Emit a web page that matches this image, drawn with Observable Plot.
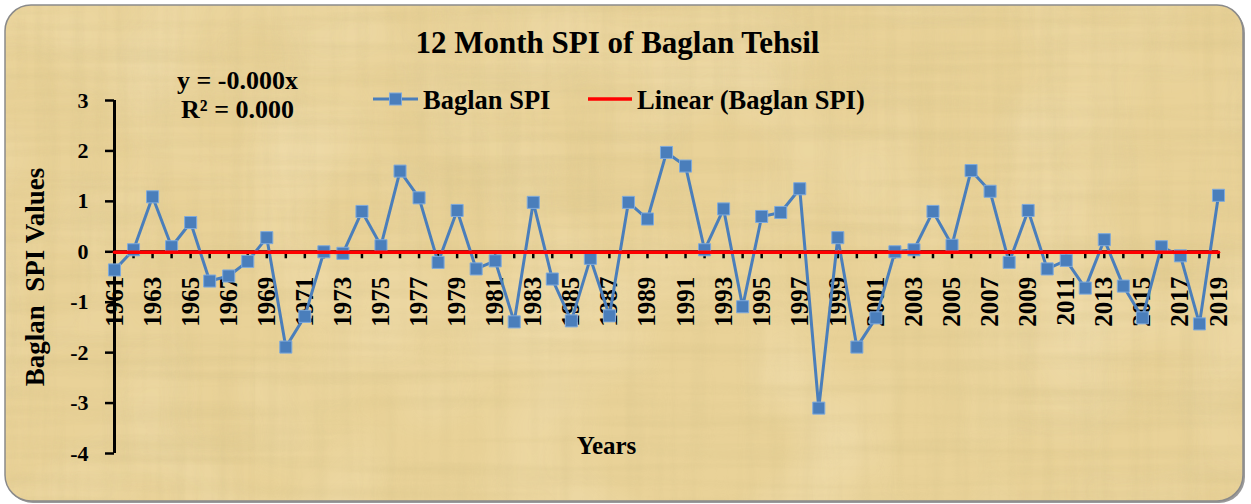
<!DOCTYPE html>
<html><head><meta charset="utf-8">
<script src="https://cdn.jsdelivr.net/npm/d3@7"></script>
<script src="https://cdn.jsdelivr.net/npm/@observablehq/plot@0.6"></script>
<style>
html,body{margin:0;padding:0;background:#ffffff;}
#wrap{position:relative;width:1251px;height:504px;overflow:hidden;font-family:"Liberation Serif","Times New Roman",serif;}
#wrap svg{position:absolute;left:0;top:0;}
</style></head><body>
<div id="wrap">
<svg id="bg" width="1251" height="504">
  <defs>
    <filter id="fibH" x="0" y="0" width="100%" height="100%">
      <feTurbulence type="fractalNoise" baseFrequency="0.003 0.07" numOctaves="3" seed="4"/>
      <feColorMatrix type="matrix" values="0 0 0 0 0.62  0 0 0 0 0.5  0 0 0 0 0.22  0 0 0 1.6 -0.64"/>
    </filter>
    <filter id="fibV" x="0" y="0" width="100%" height="100%">
      <feTurbulence type="fractalNoise" baseFrequency="0.07 0.004" numOctaves="3" seed="9"/>
      <feColorMatrix type="matrix" values="0 0 0 0 0.64  0 0 0 0 0.52  0 0 0 0 0.24  0 0 0 1.5 -0.62"/>
    </filter>
    <filter id="spot" x="0" y="0" width="100%" height="100%">
      <feTurbulence type="fractalNoise" baseFrequency="0.008" numOctaves="2" seed="2"/>
      <feColorMatrix type="matrix" values="0 0 0 0 1  0 0 0 0 0.92  0 0 0 0 0.72  0 0 0 1.2 -0.48"/>
    </filter>
    <clipPath id="clip"><rect x="5" y="5" width="1238" height="496" rx="26"/></clipPath>
  </defs>
  <rect x="7" y="7" width="1238" height="496" rx="26" fill="#9a9a9a"/>
  <rect x="5" y="5" width="1238" height="496" rx="26" fill="#e9d298"/>
  <g clip-path="url(#clip)">
    <rect x="0" y="0" width="1251" height="504" filter="url(#spot)" opacity="0.45"/>
    <rect x="0" y="0" width="1251" height="504" filter="url(#fibH)" opacity="0.3"/>
    <rect x="0" y="0" width="1251" height="504" filter="url(#fibV)" opacity="0.25"/>
  </g>
  <rect x="5" y="5" width="1238" height="496" rx="26" fill="none" stroke="#8a8a8a" stroke-width="1.5"/>
</svg>
</div>
<script>
const years = [1961,1962,1963,1964,1965,1966,1967,1968,1969,1970,
  1971,1972,1973,1974,1975,1976,1977,1978,1979,1980,
  1981,1982,1983,1984,1985,1986,1987,1988,1989,1990,
  1991,1992,1993,1994,1995,1996,1997,1998,1999,2000,
  2001,2002,2003,2004,2005,2006,2007,2008,2009,2010,
  2011,2012,2013,2014,2015,2016,2017,2018,2019];
const spi = [-0.36,0.04,1.09,0.10,0.58,-0.58,-0.48,-0.19,0.28,-1.89,
  -1.28,0.00,-0.03,0.80,0.12,1.60,1.07,-0.21,0.82,-0.34,
  -0.18,-1.39,0.98,-0.54,-1.37,-0.13,-1.27,0.98,0.65,1.97,
  1.70,0.04,0.85,-1.09,0.70,0.78,1.25,-3.10,0.28,-1.89,
  -1.31,0.00,0.04,0.80,0.13,1.61,1.20,-0.21,0.82,-0.34,
  -0.17,-0.72,0.24,-0.68,-1.31,0.10,-0.08,-1.43,1.12];
// Linear trend line (flat, slope -0.000)
const trendYears = [1961, 2019];
const trendValues = [-0.01, -0.01];
const yTicks = [3,2,1,0,-1,-2,-3,-4];
const xTickLabels = years.filter(y => y % 2 === 1);
const titleText = "12 Month SPI of Baglan Tehsil";
const yLabel = "Baglan  SPI Values";
const xLabel = "Years";
const eqLines = ["y = -0.000x", "R² = 0.000"];
const seriesName = "Baglan SPI";
const trendName = "Linear (Baglan SPI)";

const data = years.map((yr, i) => ({year: yr, spi: spi[i]}));
const trend = trendYears.map((yr, i) => ({year: yr, v: trendValues[i]}));
const blue = "#4a7ebb";

const chart = Plot.plot({
  width: 1251, height: 504,
  marginLeft: 114, marginRight: 33, marginTop: 100, marginBottom: 51,
  style: {background: "transparent", fontFamily: "'Liberation Serif','Times New Roman',serif", fontWeight: "bold", color: "black", overflow: "visible"},
  x: {domain: [1961, 2019], axis: null},
  y: {domain: [-4, 3], axis: null},
  marks: [
    Plot.ruleX([1961], {stroke: "black", strokeWidth: 3}),
    Plot.ruleY([0], {stroke: "black", strokeWidth: 3}),
    Plot.ruleX(years, {x: d => d, y1: 0, y2: 0, insetBottom: -7, stroke: "black", strokeWidth: 2.5}),
    Plot.axisY({ticks: yTicks, tickSize: 9, tickPadding: 17, fontSize: 22, tickFormat: d => String(d), label: null, strokeWidth: 2.5, fill: "black"}),
    Plot.text(xTickLabels, {x: d => d, y: 0, text: d => String(d), rotate: -90, textAnchor: "end", lineAnchor: "middle", dy: 25, fontSize: 25, fill: "black"}),
    Plot.line(data, {x: "year", y: "spi", stroke: blue, strokeWidth: 3}),
    Plot.dot(data, {x: "year", y: "spi", symbol: "square", r: 6.8, fill: blue, stroke: "#7eaadd", strokeWidth: 1}),
    Plot.line(trend, {x: "year", y: "v", stroke: "#ff0000", strokeWidth: 3.5}),
    Plot.text([titleText], {frameAnchor: "top-left", dx: 503, dy: -48, fontSize: 31, textAnchor: "middle", lineAnchor: "bottom", fill: "black"}),
    Plot.text([eqLines[0]], {frameAnchor: "top-left", dx: 123, dy: -12, fontSize: 26, textAnchor: "middle", lineAnchor: "bottom", fill: "black"}),
    Plot.text([eqLines[1]], {frameAnchor: "top-left", dx: 123, dy: 17, fontSize: 26, textAnchor: "middle", lineAnchor: "bottom", fill: "black"}),
    Plot.text([yLabel], {frameAnchor: "left", rotate: -90, dx: -79, fontSize: 27, textAnchor: "middle", lineAnchor: "middle", fill: "black"}),
    Plot.text([xLabel], {frameAnchor: "bottom", dx: -60, fontSize: 25, textAnchor: "middle", lineAnchor: "bottom", fill: "black"})
  ]
});
document.getElementById("wrap").appendChild(chart);

// Legend
const ns = "http://www.w3.org/2000/svg";
const leg = document.createElementNS(ns, "svg");
leg.setAttribute("width", 1251); leg.setAttribute("height", 504);
leg.style.pointerEvents = "none";
const items = [
  {name: seriesName, color: blue, marker: true, x0: 373, x1: 418, tx: 423},
  {name: trendName, color: "#ff0000", marker: false, x0: 588, x1: 632, tx: 637}
];
items.forEach(it => {
  const ln = document.createElementNS(ns, "line");
  ln.setAttribute("x1", it.x0); ln.setAttribute("x2", it.x1);
  ln.setAttribute("y1", 99); ln.setAttribute("y2", 99);
  ln.setAttribute("stroke", it.color); ln.setAttribute("stroke-width", it.marker ? 3 : 3.5);
  leg.appendChild(ln);
  if (it.marker) {
    const sq = document.createElementNS(ns, "rect");
    const c = (it.x0 + it.x1) / 2;
    sq.setAttribute("x", c - 6); sq.setAttribute("y", 93);
    sq.setAttribute("width", 12); sq.setAttribute("height", 12);
    sq.setAttribute("fill", blue); sq.setAttribute("stroke", "#7eaadd"); sq.setAttribute("stroke-width", 1);
    leg.appendChild(sq);
  }
  const t = document.createElementNS(ns, "text");
  t.setAttribute("x", it.tx); t.setAttribute("y", 109);
  t.setAttribute("font-family", "'Liberation Serif','Times New Roman',serif");
  t.setAttribute("font-weight", "bold"); t.setAttribute("font-size", 26.5);
  t.textContent = it.name;
  leg.appendChild(t);
});
document.getElementById("wrap").appendChild(leg);
</script>
</body></html>
